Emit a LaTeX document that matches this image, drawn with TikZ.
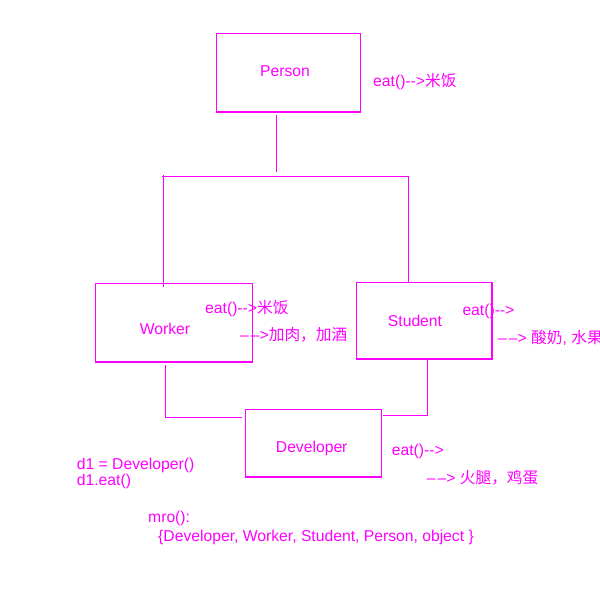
\documentclass[tikz,border=0pt]{standalone}
\usepackage{fontspec}
\setmainfont{Liberation Sans}[Ligatures=TeXOff]
\newfontfamily\cjk{Noto Sans CJK SC}
\definecolor{mag}{RGB}{255,0,255}
\newcommand\arr{–\kern2pt–>}
\tikzset{
  cls/.style={draw=mag,line width=1.5pt,inner sep=0pt},
  txt/.style={text=mag,inner sep=0pt,font=\fontsize{15.7}{19}\selectfont},
  note/.style={txt,anchor=base west}
}
\begin{document}
\begin{tikzpicture}[x=1pt,y=-1pt]
\useasboundingbox (0,0) rectangle (600,600);

\node[cls,minimum width=144pt,minimum height=78.7pt] (person) at (288.3,72.7){};
\node[cls,minimum width=157pt,minimum height=78.7pt] (worker) at (173.8,322.7){};
\node[cls,minimum width=135.3pt,minimum height=76.7pt] (student) at (424.3,320.7){};
\node[cls,minimum width=136.2pt,minimum height=67.7pt] (developer) at (313.6,443.2){};

\node[txt,anchor=base] (personlbl) at (285,76.7){Person};
\node[txt,anchor=base] (workerlbl) at (165,334){Worker};
\node[txt,anchor=base] (studentlbl) at (415,326){Student};
\node[txt,anchor=base] (developerlbl) at (311.7,452.3){Developer};

\coordinate (ptop) at (276.3,172);
\coordinate (bl) at (162.3,176.3);
\coordinate (br) at (408.7,176.3);
\coordinate (lt) at (163.3,175);
\coordinate (lb) at (163.3,287.3);
\coordinate (wk) at (165.3,417.3);
\coordinate (sk) at (427.7,415.3);

\draw[mag,line width=1.5pt]([yshift=-2pt]person.south -| ptop)--(ptop);
\draw[mag,line width=1.5pt](bl)--(br)--(br |- student.north);
\draw[mag,line width=1.5pt](lt)--(lb);
\draw[mag,line width=1.5pt]([yshift=-2pt]worker.south -| wk)--(wk)--([xshift=-3pt]developer.west |- wk);
\draw[mag,line width=1.5pt](student.south -| sk)--(sk)--([xshift=1pt]developer.east |- sk);

\node[note] (pnote) at (373,86.5){eat()-->{\cjk 米饭}};
\node[note] (wnote1) at (205,313.3){eat()-->{\cjk 米饭}};
\node[note] (wnote2) at (240,340){\arr{\cjk 加肉，加酒}};
\node[note] (snote1) at (462.3,315){eat()-->};
\node[note] (snote2) at (498,343.3){\arr{} {\cjk 酸奶}, {\cjk 水果}};
\node[note] (dnote1) at (391.7,455){eat()-->};
\node[note] (dnote2) at (426.7,483){\arr{} {\cjk 火腿，鸡蛋}};

\node[note] (call1) at (76.7,469){d1 = Developer()};
\node[note] (call2) at (76.7,485){d1.eat()};
\node[note] (mro1) at (148,522){mro():};
\node[note] (mro2) at (158,541){\{Developer, Worker, Student, Person, object \}};

\end{tikzpicture}
\end{document}
